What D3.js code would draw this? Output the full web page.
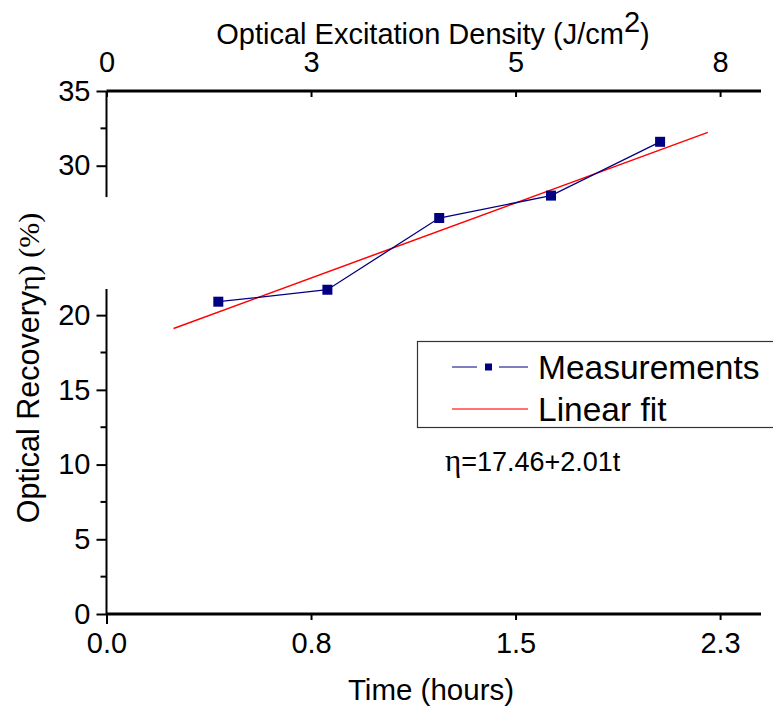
<!DOCTYPE html>
<html>
<head>
<meta charset="utf-8">
<script src="https://cdn.jsdelivr.net/npm/d3@7"></script>
<style>
  body { margin: 0; background: #fff; }
  svg { display: block; font-family: 'Liberation Sans', Arial, sans-serif; }
  .axis text { font-size: 29px; fill: #000; }
  .axis line { stroke: #000; stroke-width: 2; }
</style>
</head>
<body>
<svg id="chart" width="773" height="709"></svg>
<script>
// measured points (time in hours, optical recovery in %)
const timeHours = [0.41, 0.81, 1.22, 1.63, 2.03]
const recovery = [20.9, 21.7, 26.5, 28.0, 31.6]

// linear fit, in excitation density units (J/cm2)
const fitIntercept = 17.46
const fitSlope = 2.01
const fitDensity = [0.82, 7.35]

const timeTicks = [0, 0.75, 1.5, 2.25]
const timeLabels = ['0.0', '0.8', '1.5', '2.3']
const densityTicks = [0, 2.5, 5, 7.5]
const densityLabels = ['0', '3', '5', '8']
const yMajor = [0, 5, 10, 15, 20, 30, 35]
const yMinor = [2.5, 7.5, 12.5, 17.5, 32.5]
// visible pieces of the broken y axis
const ySegments = [[0, 21.75], [27.9, 35]]

const svg = d3.select('#chart')

const x = d3.scaleLinear().domain([0, 2.4]).range([106.5, 761])
const xTop = d3.scaleLinear().domain([0, 8]).range([106.5, 761])
const y = d3.scaleLinear().domain([0, 35]).range([614, 91])

// bottom axis
const bottomAxis = svg.append('g')
  .attr('class', 'axis')
  .attr('transform', `translate(0, ${y(0)})`)
  .call(d3.axisBottom(x).tickValues(timeTicks).tickSize(6).tickPadding(12)
    .tickFormat((d, i) => timeLabels[i]))
bottomAxis.select('.domain').attr('stroke', '#000').attr('stroke-width', 3).attr('d', `M${x.range()[0]},0H${x.range()[1]}`)
bottomAxis.select('.tick line').attr('y2', 10)

// top axis, ticks pointing inward
const topAxis = svg.append('g')
  .attr('class', 'axis')
  .attr('transform', `translate(0, ${y(35)})`)
  .call(d3.axisTop(xTop).tickValues(densityTicks).tickSizeInner(-6).tickSizeOuter(0).tickPadding(19)
    .tickFormat((d, i) => densityLabels[i]))
topAxis.select('.domain').attr('stroke', '#000').attr('stroke-width', 3).attr('d', `M${xTop.range()[0]},0H${xTop.range()[1]}`)

// left axis with a break
const leftAxis = svg.append('g')
  .attr('class', 'axis')
  .attr('transform', `translate(${x(0)}, 0)`)
  .call(d3.axisLeft(y).tickValues(yMajor).tickSize(10).tickPadding(6).tickFormat(d3.format('d')))
leftAxis.select('.domain').remove()
leftAxis.selectAll('.minor')
  .data(yMinor)
  .enter()
  .append('line')
  .attr('x1', -6)
  .attr('x2', 0)
  .attr('y1', d => y(d))
  .attr('y2', d => y(d))
leftAxis.selectAll('.seg')
  .data(ySegments)
  .enter()
  .append('line')
  .attr('stroke', '#000')
  .attr('stroke-width', 2.5)
  .attr('x1', 0)
  .attr('x2', 0)
  .attr('y1', d => y(d[0]))
  .attr('y2', d => y(d[1]))

// axis titles
svg.append('text')
  .attr('x', 431)
  .attr('y', 700)
  .attr('text-anchor', 'middle')
  .attr('font-size', 29.5)
  .text('Time (hours)')

const topTitle = svg.append('text')
  .attr('x', 433)
  .attr('y', 44)
  .attr('text-anchor', 'middle')
  .attr('font-size', 29)
topTitle.append('tspan').text('Optical Excitation Density (J/cm')
topTitle.append('tspan').attr('font-size', 29).attr('dy', -12).text('2')
topTitle.append('tspan').attr('dy', 12).text(')')

const yTitle = svg.append('text')
  .attr('transform', 'translate(39, 368) rotate(-90)')
  .attr('text-anchor', 'middle')
  .attr('font-size', 30.5)
yTitle.append('tspan').text('Optical Recovery')
yTitle.append('tspan')
  .attr('font-family', "'Liberation Serif', 'Times New Roman', serif")
  .attr('font-size', 30)
  .text('\u03B7) (%)')

// fit line
const fitPoints = fitDensity.map(d => [xTop(d), y(fitIntercept + fitSlope * d)])
svg.append('path')
  .attr('d', d3.line()(fitPoints))
  .attr('fill', 'none')
  .attr('stroke', '#ff0000')
  .attr('stroke-width', 1.5)

// measurements
const measured = timeHours.map((t, i) => [x(t), y(recovery[i])])
svg.append('path')
  .attr('d', d3.line()(measured))
  .attr('fill', 'none')
  .attr('stroke', '#000080')
  .attr('stroke-width', 1.3)

svg.selectAll('.pt')
  .data(measured)
  .enter()
  .append('rect')
  .attr('x', d => d[0] - 5)
  .attr('y', d => d[1] - 5)
  .attr('width', 10)
  .attr('height', 10)
  .attr('fill', '#000080')

// legend
const legend = svg.append('g')
legend.append('rect')
  .attr('x', 417.5)
  .attr('y', 341.5)
  .attr('width', 380)
  .attr('height', 86)
  .attr('fill', '#fff')
  .attr('stroke', '#333')
  .attr('stroke-width', 1.2)
legend.append('line')
  .attr('x1', 452).attr('x2', 528).attr('y1', 367).attr('y2', 367)
  .attr('stroke', '#000080').attr('stroke-width', 1)
legend.append('rect')
  .attr('x', 477).attr('y', 360).attr('width', 22).attr('height', 14).attr('fill', '#fff')
legend.append('rect')
  .attr('x', 485).attr('y', 363.5).attr('width', 7).attr('height', 7).attr('fill', '#000080')
legend.append('text')
  .attr('x', 538).attr('y', 379).attr('font-size', 33.5).text('Measurements')
legend.append('line')
  .attr('x1', 452).attr('x2', 528).attr('y1', 409).attr('y2', 409)
  .attr('stroke', '#ff4444').attr('stroke-width', 1.3)
legend.append('text')
  .attr('x', 538).attr('y', 421).attr('font-size', 33.5).text('Linear fit')

const eq = svg.append('text')
  .attr('x', 445).attr('y', 471).attr('font-size', 27)
eq.append('tspan')
  .attr('font-family', "'Liberation Serif', 'Times New Roman', serif")
  .attr('font-size', 31)
  .text('\u03B7')
eq.append('tspan').text('=17.46+2.01t')
</script>
</body>
</html>
